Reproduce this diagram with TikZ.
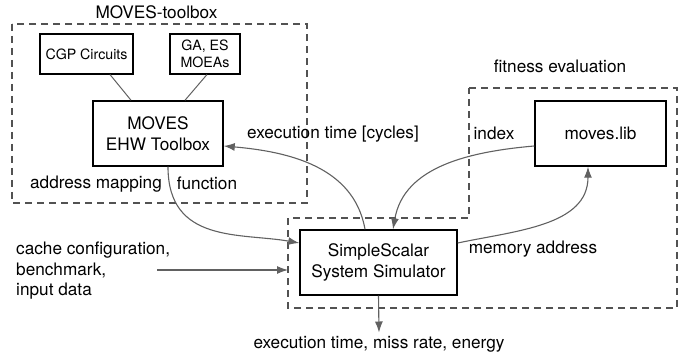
\documentclass[tikz,border=0pt]{standalone}
\usepackage{fontspec}
\setmainfont{TeX Gyre Heros}
\usetikzlibrary{arrows.meta}

\tikzset{
  box/.style={draw, line width=1.5pt, align=center, inner sep=0pt},
  sbox/.style={draw, line width=1.1pt, align=center, inner sep=0pt, font=\fontsize{14.2}{16.5}\selectfont},
  arr/.style={draw=black!62, line width=1.1pt, -{Latex[length=11pt,width=8pt]}},
  link/.style={draw=black!62, line width=1pt},
  region/.style={draw=black!68, line width=1.1pt, dash pattern=on 7pt off 5pt},
}

\begin{document}
\begin{tikzpicture}[x=1pt,y=1pt,font=\fontsize{17.2}{20.5}\selectfont]
\useasboundingbox (0,0) rectangle (689,353);
\coordinate (dsw) at (288,45);
\coordinate (src) at (157,83);

% Draw regions
\draw[region] (12,329) rectangle (307,150);
\draw[region] (469,265) -- (677,265) -- (677,45) -- (dsw) -- (288,135) -- (469,135) -- cycle;

% Draw blocks
\node[box, minimum width=130pt, minimum height=65pt] (ehw) at (158,219.5) {MOVES\\EHW Toolbox};
\node[sbox, minimum width=93pt, minimum height=40pt] (cgp) at (86.5,299) {CGP Circuits};
\node[sbox, minimum width=70pt, minimum height=40pt] (ga) at (205,299) {GA, ES\\MOEAs};
\node[box, minimum width=131pt, minimum height=65pt] (lib) at (600.5,219.5) {moves.lib};
\node[box, minimum width=157pt, minimum height=65pt] (sim) at (378.5,90.5) {SimpleScalar\\System Simulator};

% labels
\node (tbx) at (156.5,341) {MOVES-toolbox};
\node (fit) at (560,287) {fitness evaluation};
\node (cyc) at (333,219) {execution time [cycles]};
\node (idx) at (494,220) {index};
\node (amap) at (96,169) {address mapping};
\node (afun) at (207,170) {function};
\node (mem) at (533,104) {memory address};
\node[align=left, anchor=west, inner sep=0pt] (inp) at (16,82) {cache configuration,\\benchmark,\\input data};
\node (res) at (379,9) {execution time, miss rate, energy};

% draw links
\draw[link] ([xshift=23.5pt]cgp.south) -- ([xshift=-27pt]ehw.north);
\draw[link] ([xshift=2pt]ga.south) -- ([xshift=27pt]ehw.north);

% Draw arrows
\draw[arr] ([xshift=10pt]ehw.south) to[out=-90,in=170,out looseness=1.3] ([yshift=19.5pt]sim.west);
\draw[arr] ([xshift=-13.5pt]sim.north) to[out=100,in=-5] ([yshift=-12.5pt]ehw.east);
\draw[arr] ([yshift=-12.5pt]lib.west) to[out=185,in=80] ([xshift=14.5pt]sim.north);
\draw[arr] ([yshift=19.5pt]sim.east) to[out=12,in=-90] ([xshift=-12.5pt]lib.south);
\draw[arr] (src) -- (src -| dsw);
\draw[arr] (sim.south) -- (res.north);
\end{tikzpicture}
\end{document}
